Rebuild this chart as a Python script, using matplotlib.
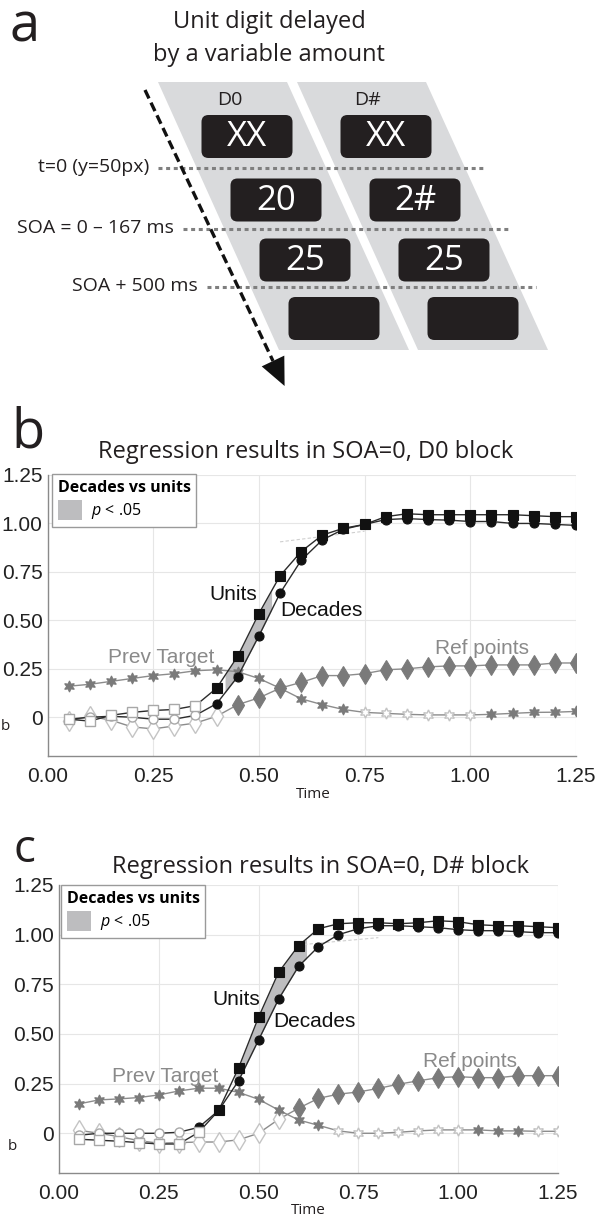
import numpy as np
import matplotlib
matplotlib.use("Agg")
import matplotlib.pyplot as plt
from matplotlib.patches import Polygon, FancyBboxPatch, Patch

plt.rcParams['font.family'] = ['Open Sans', 'DejaVu Sans']
plt.rcParams['mathtext.fontset'] = 'custom'
plt.rcParams['mathtext.it'] = 'Open Sans:italic'
plt.rcParams['mathtext.rm'] = 'Open Sans'

# time axis (s)
time = [0.05, 0.10, 0.15, 0.20, 0.25, 0.30, 0.35, 0.40, 0.45, 0.50, 0.55, 0.60, 0.65,
        0.70, 0.75, 0.80, 0.85, 0.90, 0.95, 1.00, 1.05, 1.10, 1.15, 1.20, 1.25]

# panel b : SOA=0, D0 block
units_b = [-0.01, -0.02, 0.01, 0.025, 0.035, 0.04, 0.06, 0.15, 0.315, 0.535, 0.73, 0.855, 0.94,
           0.975, 0.995, 1.035, 1.05, 1.045, 1.045, 1.045, 1.045, 1.045, 1.04, 1.035, 1.035]
units_b_sig = [0, 0, 0, 0, 0, 0, 0, 1, 1, 1, 1, 1, 1, 1, 1, 1, 1, 1, 1, 1, 1, 1, 1, 1, 1]
decades_b = [-0.01, 0.0, 0.005, 0.0, -0.01, -0.01, 0.01, 0.07, 0.21, 0.42, 0.64, 0.81, 0.915,
             0.97, 0.995, 1.02, 1.025, 1.02, 1.017, 1.01, 1.01, 1.0, 1.0, 0.995, 0.99]
decades_b_sig = [0, 0, 0, 0, 0, 0, 0, 1, 1, 1, 1, 1, 1, 1, 1, 1, 1, 1, 1, 1, 1, 1, 1, 1, 1]
prev_b = [0.16, 0.17, 0.185, 0.20, 0.215, 0.225, 0.24, 0.245, 0.235, 0.20, 0.15, 0.095, 0.065,
          0.04, 0.025, 0.02, 0.015, 0.012, 0.012, 0.012, 0.015, 0.02, 0.025, 0.026, 0.03]
prev_b_sig = [1, 1, 1, 1, 1, 1, 1, 1, 1, 1, 1, 1, 1, 1, 0, 0, 0, 0, 0, 0, 1, 1, 1, 1, 1]
ref_b = [-0.02, 0.005, -0.015, -0.05, -0.06, -0.045, -0.03, 0.005, 0.065, 0.10, 0.15, 0.18, 0.215,
         0.215, 0.225, 0.245, 0.25, 0.26, 0.265, 0.265, 0.27, 0.27, 0.27, 0.28, 0.28]
ref_b_sig = [0, 0, 0, 0, 0, 0, 0, 0, 1, 1, 1, 1, 1, 1, 1, 1, 1, 1, 1, 1, 1, 1, 1, 1, 1]
band_b = (0.42, 0.53)          # decades vs units p < .05
fit_b_t = [0.55, 0.75]
fit_b_y = [0.905, 0.96]

# panel c : SOA=0, D# block
units_c = [-0.03, -0.035, -0.04, -0.047, -0.054, -0.054, 0.005, 0.115, 0.33, 0.585, 0.81, 0.945, 1.03,
           1.055, 1.06, 1.06, 1.055, 1.06, 1.07, 1.065, 1.05, 1.045, 1.045, 1.04, 1.035]
units_c_sig = [0, 0, 0, 0, 0, 0, 0, 1, 1, 1, 1, 1, 1, 1, 1, 1, 1, 1, 1, 1, 1, 1, 1, 1, 1]
decades_c = [-0.01, 0.0, 0.0, 0.0, 0.0, 0.005, 0.03, 0.115, 0.265, 0.47, 0.675, 0.84, 0.94,
             1.0, 1.03, 1.045, 1.045, 1.04, 1.035, 1.025, 1.02, 1.02, 1.015, 1.01, 1.01]
decades_c_sig = [0, 0, 0, 0, 0, 0, 1, 1, 1, 1, 1, 1, 1, 1, 1, 1, 1, 1, 1, 1, 1, 1, 1, 1, 1]
prev_c = [0.148, 0.168, 0.173, 0.18, 0.193, 0.213, 0.227, 0.227, 0.206, 0.171, 0.117, 0.067, 0.04,
          0.012, 0.0, 0.0, 0.005, 0.012, 0.017, 0.017, 0.017, 0.012, 0.012, 0.01, 0.01]
prev_c_sig = [1, 1, 1, 1, 1, 1, 1, 1, 1, 1, 1, 1, 1, 0, 0, 0, 0, 0, 0, 0, 1, 1, 1, 0, 0]
ref_c = [0.015, 0.0, -0.017, -0.037, -0.05, -0.047, -0.044, -0.044, -0.033, 0.0, 0.07, 0.126, 0.176,
         0.197, 0.208, 0.226, 0.247, 0.264, 0.28, 0.285, 0.28, 0.28, 0.29, 0.29, 0.29]
ref_c_sig = [0, 0, 0, 0, 0, 0, 0, 0, 0, 0, 0, 1, 1, 1, 1, 1, 1, 1, 1, 1, 1, 1, 1, 1, 1]
band_c = (0.44, 0.62)
fit_c_t = [0.60, 0.80]
fit_c_y = [0.948, 0.985]

xticks = [0.0, 0.25, 0.5, 0.75, 1.0, 1.25]
xticklabels = ["0.00", "0.25", "0.50", "0.75", "1.00", "1.25"]
yticks = [0.0, 0.25, 0.5, 0.75, 1.0, 1.25]
yticklabels = ["0", "0.25", "0.50", "0.75", "1.00", "1.25"]

W, H = 600, 1220
DARK = '#231f20'
STAR = (6, 1, 0)


def fx(x):
    return x / W


def fy(y):
    return 1 - y / H


fig = plt.figure(figsize=(6, 12.2), dpi=100)

# ---------------- panel a : design sketch (pixel coords) ----------------
axa = fig.add_axes([0, fy(400), 1, 400 / H])
axa.set_xlim(0, 600)
axa.set_ylim(400, 0)
axa.axis('off')

for x0 in (158, 297):
    axa.add_patch(Polygon([(x0, 82), (x0 + 129, 82), (x0 + 251, 350), (x0 + 121, 350)],
                          closed=True, fc='#d9dadc', ec='none'))

rows = [(136.5, "XX", "XX"), (200, "20", "2#"), (260, "25", "25"), (318.5, "", "")]
for i, (yc, t1, t2) in enumerate(rows):
    for xc, txt in ((247 + 29 * i, t1), (386 + 29 * i, t2)):
        axa.add_patch(FancyBboxPatch((xc - 45.5, yc - 21.5), 91, 43,
                                     boxstyle="round,pad=0,rounding_size=7",
                                     fc=DARK, ec='none'))
        if txt:
            axa.text(xc, yc + 1, txt, color='white', fontsize=25, ha='center', va='center')

axa.text(230, 105, "D0", fontsize=14, ha='center', va='baseline', color=DARK)
axa.text(367, 105, "D#", fontsize=14, ha='center', va='baseline', color=DARK)

for y, x0, x1, lab in ((168, 158, 485, "t=0 (y=50px)"),
                       (229, 183, 511, "SOA = 0 \u2013 167 ms"),
                       (287, 207, 536, "SOA + 500 ms")):
    axa.plot([x0, x1], [y, y], color='#7f7f7f', lw=2.2,
             linestyle=(0, (1.3, 1.2)), dash_capstyle='butt')
    axa.text(x0 - 9, y - 1, lab, fontsize=14, ha='right', va='center', color=DARK)

# dashed time arrow
axa.plot([145, 273], [90, 361], color='#111111', lw=2.4, linestyle=(0, (2.8, 1.4)))
axa.add_patch(Polygon([(284.3, 355.6), (261.7, 366.4), (284.6, 386)], closed=True,
                      fc='#111111', ec='none'))

fig.text(fx(10), fy(42), "a", fontsize=39, ha='left', va='baseline', color=DARK)
fig.text(fx(269), fy(28), "Unit digit delayed", fontsize=17, ha='center', va='baseline', color=DARK)
fig.text(fx(269), fy(61), "by a variable amount", fontsize=17, ha='center', va='baseline', color=DARK)


# ---------------- panels b and c ----------------
def series(ax, y, sig, marker, ms, fill_col, open_col, line_col, z):
    t = np.array(time)
    y = np.array(y)
    s = np.array(sig, dtype=bool)
    ax.plot(t, y, color=line_col, lw=1.0, zorder=z)
    ax.plot(t[~s], y[~s], ls='none', marker=marker, ms=ms, mfc='white',
            mec=open_col, mew=1.0, zorder=z + 0.5)
    ax.plot(t[s], y[s], ls='none', marker=marker, ms=ms, mfc=fill_col,
            mec=fill_col, mew=0.8, zorder=z + 0.6)


def panel(rect, units, u_sig, decades, d_sig, prev, p_sig, ref, r_sig, band, fit_t, fit_y,
          labels):
    ax = fig.add_axes(rect)
    ax.set_xlim(0, 1.25)
    ax.set_ylim(-0.2, 1.25)
    ax.grid(color='#e6e6e6', lw=0.8)
    ax.set_axisbelow(True)
    for s in ('top', 'right'):
        ax.spines[s].set_visible(False)
    for s in ('left', 'bottom'):
        ax.spines[s].set_color('#8a8a8a')
        ax.spines[s].set_linewidth(1.0)
    ax.set_xticks(xticks)
    ax.set_xticklabels(xticklabels)
    ax.set_yticks(yticks)
    ax.set_yticklabels(yticklabels)
    ax.tick_params(length=0, labelsize=15, colors='#222222')
    ax.tick_params(axis='x', pad=8)
    ax.tick_params(axis='y', pad=3.5)
    for lab in ax.get_xticklabels() + ax.get_yticklabels():
        lab.set_family('Liberation Sans')

    # significance band between units and decades
    tt = np.linspace(band[0], band[1], 60)
    ax.fill_between(tt, np.interp(tt, time, decades), np.interp(tt, time, units),
                    color='#bdbdbf', lw=0, zorder=2)
    ax.plot(fit_t, fit_y, color='#cfcfcf', lw=0.8, ls=(0, (3, 2)), zorder=2)

    series(ax, prev, p_sig, STAR, 8, '#7a7a7a', '#c4c4c4', '#8c8c8c', 3)
    series(ax, ref, r_sig, 'd', 10, '#7a7a7a', '#c4c4c4', '#8c8c8c', 3)
    series(ax, decades, d_sig, 'o', 6.5, '#111111', '#a8a8a8', '#2b2b2b', 5)
    series(ax, units, u_sig, 's', 7, '#111111', '#a8a8a8', '#2b2b2b', 6)

    for txt, (x, y), col in labels:
        ax.text(x, y, txt, fontsize=15, family='Liberation Sans', color=col,
                ha='center', va='center', zorder=8)
    return ax


lab_b = [("Units", (0.439, 0.634), '#111111'), ("Decades", (0.649, 0.55), '#111111'),
         ("Prev Target", (0.269, 0.31), '#8a8a8a'), ("Ref points", (1.028, 0.356), '#8a8a8a')]
lab_c = [("Units", (0.443, 0.675), '#111111'), ("Decades", (0.641, 0.565), '#111111'),
         ("Prev Target", (0.266, 0.287), '#8a8a8a'), ("Ref points", (1.03, 0.363), '#8a8a8a')]

axb = panel([fx(47.5), fy(756), 528.5 / W, 281 / H], units_b, units_b_sig, decades_b,
            decades_b_sig, prev_b, prev_b_sig, ref_b, ref_b_sig, band_b, fit_b_t, fit_b_y, lab_b)
axc = panel([fx(59), fy(1173), 499 / W, 288 / H], units_c, units_c_sig, decades_c,
            decades_c_sig, prev_c, prev_c_sig, ref_c, ref_c_sig, band_c, fit_c_t, fit_c_y, lab_c)

for ax, (lx, ly) in ((axb, (52, 474)), (axc, (61, 885))):
    leg = ax.legend([Patch(facecolor='#bdbdbf', edgecolor='none')], [r'$p$ < .05'],
                    title='Decades vs units', loc='upper left',
                    bbox_to_anchor=(fx(lx), fy(ly)), bbox_transform=fig.transFigure,
                    borderaxespad=0, fancybox=False, framealpha=1, edgecolor='#9a9a9a',
                    prop={'family': 'Open Sans', 'size': 11.5},
                    title_fontproperties={'family': 'Open Sans', 'weight': 'bold', 'size': 11.5},
                    alignment='left', handlelength=1.5, handleheight=1.5,
                    handletextpad=0.6, borderpad=0.35, labelspacing=0.3)
    leg.get_frame().set_linewidth(1.0)
    leg.set_zorder(10)

fig.text(fx(11), fy(447), "b", fontsize=39, ha='left', va='baseline', color=DARK)
fig.text(fx(306), fy(458), "Regression results in SOA=0, D0 block", fontsize=17,
         ha='center', va='baseline', color=DARK)
fig.text(fx(14), fy(862), "c", fontsize=33, ha='left', va='baseline', color=DARK)
fig.text(fx(321), fy(873), "Regression results in SOA=0, D# block", fontsize=17,
         ha='center', va='baseline', color=DARK)

fig.text(fx(313), fy(795), "Time", fontsize=11, ha='center', va='center', color=DARK)
fig.text(fx(308), fy(1211), "Time", fontsize=11, ha='center', va='center', color=DARK)
fig.text(fx(5), fy(727), "b", fontsize=11, ha='center', va='center', color=DARK)
fig.text(fx(12.5), fy(1146), "b", fontsize=11, ha='center', va='center', color=DARK)

fig.savefig("out.png", dpi=100)
